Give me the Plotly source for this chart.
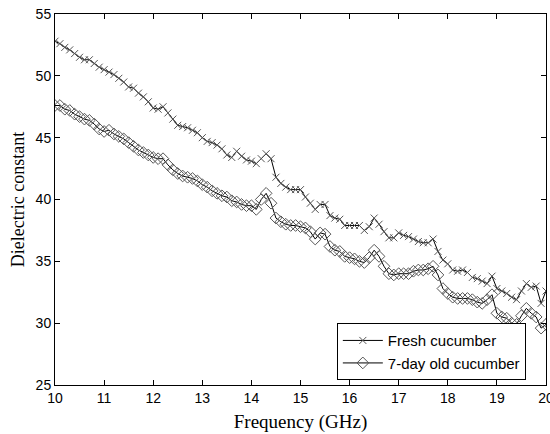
import plotly.graph_objects as go

freq = [round(10 + 0.1 * i, 1) for i in range(101)]

fresh = [
    52.8, 52.6, 52.3, 52.1, 51.8, 51.5, 51.3, 51.3, 51.0, 50.7,
    50.5, 50.3, 50.1, 49.8, 49.5, 49.1, 49.0, 48.6, 48.3, 47.9,
    47.4, 47.3, 47.5, 47.0, 46.5, 46.0, 45.9, 45.8, 45.6, 45.4,
    45.0, 44.7, 44.6, 44.4, 44.1, 43.6, 43.4, 43.9, 43.5, 43.2,
    43.1, 42.9, 43.3, 43.7, 43.3, 41.8, 41.3, 41.0, 40.8, 40.8,
    40.8, 40.2, 39.7, 39.2, 39.6, 39.6, 38.7, 38.5, 38.4, 37.9,
    37.9, 37.9, 37.9, 37.5, 37.8, 38.5, 38.0, 37.4, 36.9, 36.9,
    37.3, 37.1, 37.0, 36.8, 36.6, 36.5, 36.5, 36.8, 35.8, 35.1,
    34.8, 34.3, 34.2, 34.3, 34.1, 33.7, 33.6, 33.4, 33.2, 33.8,
    32.8, 32.6, 32.4, 32.1, 31.9, 32.6, 33.2, 32.9, 33.0, 31.6,
    32.6,
]

old7 = [
    47.6, 47.6, 47.3, 47.2, 46.9, 46.7, 46.5, 46.4, 46.1, 45.7,
    45.5, 45.6, 45.3, 45.1, 44.9, 44.6, 44.3, 44.0, 43.8, 43.6,
    43.4, 43.3, 43.3, 42.8, 42.4, 42.1, 41.9, 41.8, 41.7, 41.5,
    41.2, 41.0, 40.7, 40.5, 40.3, 40.2, 39.9, 39.8, 39.6, 39.5,
    39.5, 39.2, 40.0, 40.5, 39.7, 38.5, 38.2, 38.0, 37.9, 37.9,
    37.8, 37.7, 37.4, 36.8, 37.3, 37.2, 36.2, 35.9, 35.8, 35.4,
    35.3, 35.2, 35.0, 34.9, 35.3, 35.9, 35.4, 34.6, 34.0, 33.9,
    34.0, 34.0, 34.0, 34.2, 34.3, 34.3, 34.4, 34.6, 33.9, 32.8,
    32.4, 32.1, 32.0, 32.0, 32.0, 31.9, 31.7, 31.6, 31.9, 32.3,
    30.8, 30.5, 30.4, 30.0, 29.9, 30.6, 31.2, 30.8, 30.5, 29.6,
    29.9,
]

x_ticks = list(range(10, 21))
y_ticks = list(range(25, 56, 5))

fig = go.Figure()
fig.add_trace(go.Scatter(
    x=freq, y=fresh, mode="lines+markers", name="Fresh cucumber",
    line=dict(color="black", width=1),
    marker=dict(symbol="x-thin-open", size=7, color="#555555",
                line=dict(color="#555555", width=1)),
))
fig.add_trace(go.Scatter(
    x=freq, y=old7, mode="lines+markers", name="7-day old cucumber",
    line=dict(color="black", width=1),
    marker=dict(symbol="diamond-open", size=9, color="#555555",
                line=dict(color="#555555", width=1)),
))

axis_common = dict(
    showgrid=False, zeroline=False, showline=True, linecolor="black",
    linewidth=1, mirror="ticks", ticks="inside", ticklen=5,
    tickcolor="black", ticklabeloverflow="allow", automargin=False,
    tickfont=dict(family="Liberation Sans", size=14, color="black"),
)

fig.update_layout(
    width=550, height=434,
    margin=dict(l=55, r=4, t=14, b=49),
    paper_bgcolor="white", plot_bgcolor="white",
    xaxis=dict(range=[10, 20], tickvals=x_ticks,
               title=dict(text="Frequency (GHz)", standoff=9,
                          font=dict(family="Liberation Serif", size=19, color="black")),
               **axis_common),
    yaxis=dict(range=[25, 55], tickvals=y_ticks,
               title=dict(text="Dielectric constant", standoff=6,
                          font=dict(family="Liberation Serif", size=18, color="black")),
               **axis_common),
    legend=dict(x=0.574, y=0.013, xanchor="left", yanchor="bottom",
                bgcolor="white", bordercolor="black", borderwidth=1,
                font=dict(family="Liberation Sans", size=15, color="black"),
                tracegroupgap=0, itemwidth=40),
    showlegend=True,
)

fig.write_html("out.html")
